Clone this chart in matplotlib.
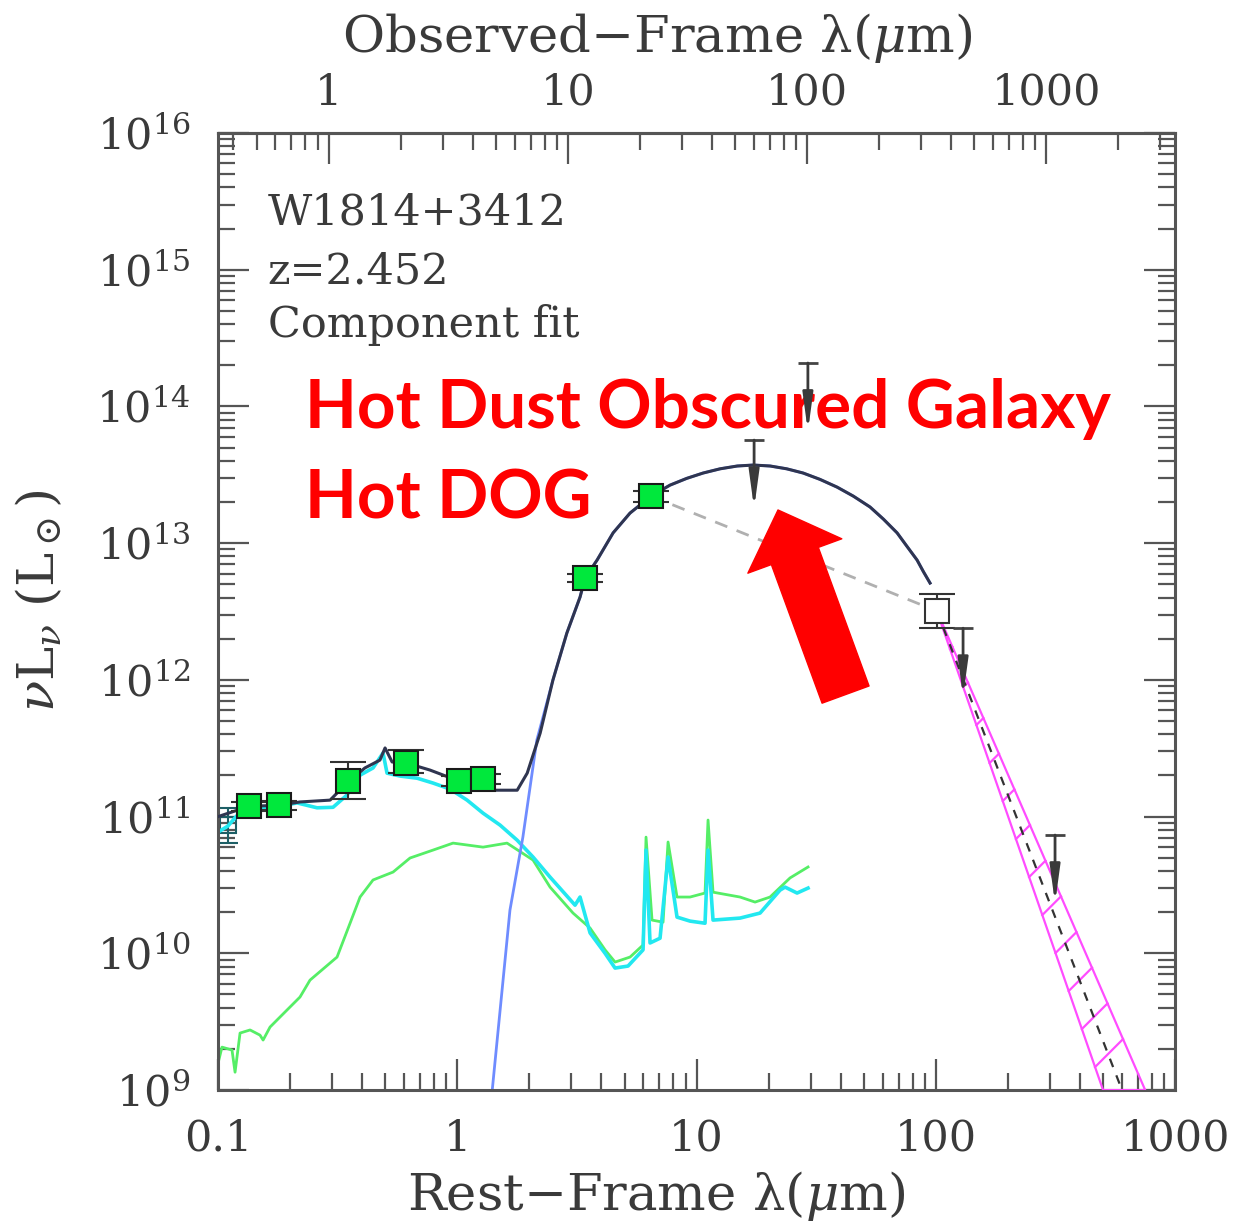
import numpy as np
import matplotlib.pyplot as plt
from matplotlib import ticker
from matplotlib.patches import FancyArrowPatch, Polygon

plt.rcParams['font.family'] = 'DejaVu Serif'
plt.rcParams['mathtext.fontset'] = 'dejavuserif'

z = 2.452

# photometry, rest-frame wavelength (micron) and nu L_nu (L_sun)
phot_lam = [0.1348, 0.180, 0.349, 0.611, 1.016, 1.282, 3.42, 6.45]
phot_L = [1.19e11, 1.21e11, 1.82e11, 2.47e11, 1.82e11, 1.89e11, 5.56e12, 2.21e13]
phot_err_lo = [0.09e11, 0.09e11, 0.48e11, 0.39e11, 0.15e11, 0.15e11, 0.35e12, 0.2e13]
phot_err_hi = [0.09e11, 0.09e11, 0.69e11, 0.60e11, 0.15e11, 0.15e11, 0.35e12, 0.2e13]

# open points (not used in the fit)
open_lam = [0.110, 101.0]
open_L = [8.7e10, 3.19e12]
open_err_lo = [2.3e10, 0.80e12]
open_err_hi = [2.9e10, 1.06e12]

# upper limits
ul_lam = [17.4, 29.2, 130.0, 315.0]
ul_L = [5.68e13, 2.08e14, 2.39e12, 7.33e10]

# total model
tot_lam = [0.100, 0.1348, 0.180, 0.220, 0.294, 0.349, 0.411, 0.475, 0.499, 0.534,
           0.611, 0.769, 1.016, 1.282, 1.41, 1.78, 1.96, 2.22, 2.51, 2.87, 3.26,
           3.42, 3.84, 4.48, 5.27, 6.45, 7.75, 9.10, 10.65, 12.54, 14.8, 17.28,
           20.3, 23.82, 27.9, 32.8, 38.7, 45.2, 53.1, 60.4, 68.9, 75.6, 83.5,
           88.8, 94.6]
tot_L = [1.0e11, 1.19e11, 1.21e11, 1.28e11, 1.32e11, 1.79e11, 2.27e11, 2.59e11,
         3.18e11, 2.51e11, 2.47e11, 2.19e11, 1.82e11, 1.75e11, 1.56e11, 1.56e11,
         2.08e11, 4.08e11, 9.97e11, 2.20e12, 4.04e12, 5.56e12, 7.53e12, 1.19e13,
         1.66e13, 2.21e13, 2.66e13, 2.98e13, 3.26e13, 3.50e13, 3.67e13, 3.73e13,
         3.67e13, 3.50e13, 3.26e13, 2.93e13, 2.57e13, 2.21e13, 1.84e13, 1.50e13,
         1.19e13, 9.53e12, 7.53e12, 6.18e12, 5.11e12]

# hot dust component
hd_lam = [1.40, 1.66, 1.88, 2.15, 2.51, 2.87, 3.26, 3.42, 3.84, 4.48, 5.27, 6.45,
          7.75, 9.10, 10.65, 12.54, 14.8, 17.28, 20.3, 23.82, 27.9, 32.8, 38.7,
          45.2, 53.1, 60.4, 68.9, 75.6, 83.5, 88.8, 94.6]
hd_L = [1.0e9, 2.07e10, 7.08e10, 3.63e11, 9.97e11, 2.20e12, 4.04e12, 5.56e12,
        7.53e12, 1.19e13, 1.66e13, 2.21e13, 2.66e13, 2.98e13, 3.26e13, 3.50e13,
        3.67e13, 3.73e13, 3.67e13, 3.50e13, 3.26e13, 2.93e13, 2.57e13, 2.21e13,
        1.84e13, 1.50e13, 1.19e13, 9.53e12, 7.53e12, 6.18e12, 5.11e12]

# stellar + AGN template (cyan)
cy_lam = [0.100, 0.110, 0.1236, 0.1498, 0.1816, 0.2139, 0.2593, 0.3025, 0.3461,
          0.3923, 0.4445, 0.4894, 0.5086, 0.5765, 0.679, 0.7917, 0.9326, 1.099,
          1.281, 1.509, 1.778, 2.073, 2.442, 3.106, 3.259, 3.589, 4.146, 4.565,
          5.172, 5.976, 6.150, 6.392, 7.038, 7.602, 8.287, 9.394, 10.85, 11.17,
          11.72, 15.20, 18.43, 22.34, 23.44, 26.31, 29.24]
cy_L = [7.71e10, 8.53e10, 1.08e11, 1.16e11, 1.19e11, 1.26e11, 1.16e11, 1.17e11,
        1.44e11, 2.01e11, 2.27e11, 2.92e11, 2.08e11, 1.98e11, 1.91e11, 1.76e11,
        1.59e11, 1.32e11, 1.06e11, 8.67e10, 6.73e10, 5.06e10, 3.61e10, 2.25e10,
        2.58e10, 1.41e10, 1.00e10, 7.80e9, 8.07e9, 1.06e10, 5.69e10, 1.19e10,
        1.29e10, 5.06e10, 1.84e10, 1.72e10, 1.66e10, 5.69e10, 1.75e10, 1.81e10,
        1.97e10, 2.90e10, 3.05e10, 2.76e10, 3.00e10]

# host template (green)
gr_lam = [0.100, 0.1039, 0.1144, 0.1178, 0.1236, 0.1361, 0.1498, 0.1543, 0.1650,
          0.1816, 0.2201, 0.2424, 0.3144, 0.3563, 0.3923, 0.4445, 0.5390, 0.6346,
          0.7917, 0.9599, 1.281, 1.614, 2.073, 2.442, 3.046, 3.589, 4.146, 4.565,
          5.274, 5.976, 6.150, 6.516, 7.244, 7.602, 8.287, 9.394, 10.85, 11.17,
          11.72, 15.20, 17.56, 20.29, 24.59, 29.24]
gr_L = [1.57e9, 2.06e9, 1.96e9, 1.35e9, 2.61e9, 2.75e9, 2.52e9, 2.32e9, 2.89e9,
        3.42e9, 4.79e9, 6.37e9, 9.39e9, 1.66e10, 2.58e10, 3.44e10, 3.93e10,
        4.98e10, 5.69e10, 6.40e10, 5.98e10, 6.40e10, 4.81e10, 3.05e10, 1.97e10,
        1.53e10, 1.06e10, 8.63e9, 9.39e9, 1.15e10, 7.08e10, 1.75e10, 1.69e10,
        6.52e10, 2.58e10, 2.58e10, 2.76e10, 9.44e10, 2.80e10, 2.58e10, 2.37e10,
        2.58e10, 3.56e10, 4.28e10]

# cold dust power-law band beyond 100 micron
band_apex = (101.0, 3.19e12)
band_lo_end = (500.0, 1e9)
band_hi_end = (750.0, 1e9)
band_mid_end = (600.0, 1e9)

TXT = '#3a3a3a'
AX = '#555555'
MAG = '#ff4cff'

fig = plt.figure(figsize=(12.36, 12.22), dpi=100)
ax = fig.add_axes([0.1764, 0.1080, 0.7743, 0.7831])
ax.set_xscale('log')
ax.set_yscale('log')
ax.set_xlim(0.1, 1000)
ax.set_ylim(1e9, 1e16)

# model curves
ax.plot(gr_lam, gr_L, color='#55ee66', lw=2.0, zorder=2)
ax.plot(cy_lam, cy_L, color='#22e8f0', lw=2.6, zorder=2.2)
ax.plot(hd_lam, hd_L, color='#6f8cff', lw=2.0, zorder=2.4)
ax.plot(tot_lam, tot_L, color='#2f3550', lw=2.2, zorder=3)

# line joining the last detection to the 100 micron point
ax.plot([phot_lam[-1], open_lam[1]], [phot_L[-1], open_L[1]], color='#b0b0b0',
        lw=2, dashes=(4.7, 3.6), zorder=2.5)

# power-law band with coarse hatching
band = Polygon([band_apex, band_lo_end, band_hi_end], closed=True, fill=False,
               edgecolor=MAG, lw=1.6, zorder=2.6)
ax.add_patch(band)
T = ax.transData
A, P1, P2 = T.transform([band_apex, band_lo_end, band_hi_end])
step = 38.0
d = np.array([1.0, 1.0])
n = int((A[1] - P1[1]) // step)
for k in range(1, n + 1):
    p = A + (P1 - A) * (k * step / (A[1] - P1[1]))
    M = np.column_stack([d, -(P2 - A)])
    t, s = np.linalg.solve(M, A - p)
    q = p + t * d
    seg = T.inverted().transform([p, q])
    ax.plot(seg[:, 0], seg[:, 1], color=MAG, lw=1.6, zorder=2.6)
ax.plot([band_apex[0], band_mid_end[0]], [band_apex[1], band_mid_end[1]],
        color='#333333', lw=1.6, dashes=(4, 4), zorder=2.7)

# photometry
lo = np.array(phot_err_lo)
hi = np.array(phot_err_hi)
ax.errorbar(phot_lam, phot_L, yerr=[lo, hi], fmt='s', ms=17, mfc='#00e83c',
            mec='#1a1a1a', mew=1.5, ecolor='#333333', elinewidth=1.5,
            capsize=13, capthick=1.5, zorder=5)
ax.errorbar(open_lam[1:], open_L[1:], yerr=[open_err_lo[1:], open_err_hi[1:]],
            fmt='s', ms=17, mfc='white', mec='#333333', mew=1.5,
            ecolor='#333333', elinewidth=1.5, capsize=13, capthick=1.5, zorder=5)
ax.errorbar(open_lam[:1], open_L[:1], yerr=[open_err_lo[:1], open_err_hi[:1]],
            fmt='s', ms=12, mfc='none', mec='#1d5f66', mew=1.5,
            ecolor='#1d5f66', elinewidth=1.5, capsize=7, capthick=1.5, zorder=1.9)

# upper limits: cap plus downward arrow
for lam, L in zip(ul_lam, ul_L):
    ax.plot([lam], [L], marker='_', ms=15, mew=2, color='#444444', zorder=6)
    ax.annotate('', xy=(lam, L / 10 ** 0.5), xytext=(lam, L),
                arrowprops=dict(arrowstyle='-|>,head_width=0.3,head_length=2.2',
                                color='#3a3a3a', lw=2, shrinkA=0, shrinkB=0),
                zorder=6)

# axes styling
for sp in ax.spines.values():
    sp.set_color(AX)
    sp.set_linewidth(2.2)
ax.xaxis.set_major_locator(ticker.LogLocator(base=10, numticks=10))
ax.xaxis.set_minor_locator(ticker.LogLocator(base=10, subs=np.arange(2, 10), numticks=20))
ax.yaxis.set_major_locator(ticker.LogLocator(base=10, numticks=10))
ax.yaxis.set_minor_locator(ticker.LogLocator(base=10, subs=np.arange(2, 10), numticks=20))
ax.xaxis.set_major_formatter(ticker.FuncFormatter(lambda v, p: f'{v:g}'))
ax.xaxis.set_minor_formatter(ticker.NullFormatter())
ax.yaxis.set_major_formatter(ticker.LogFormatterMathtext())
ax.yaxis.set_minor_formatter(ticker.NullFormatter())
ax.tick_params(which='both', direction='in', color=AX, width=1.6,
               left=True, right=True, bottom=True, top=False,
               labelsize=31, labelcolor=TXT, pad=20)
ax.tick_params(which='major', length=22)
ax.tick_params(which='minor', length=12.5)
ax.xaxis.offsetText.set_visible(False)
ax.yaxis.offsetText.set_visible(False)

sec = ax.secondary_xaxis('top', functions=(lambda x: x * (1 + z), lambda x: x / (1 + z)))
sec.xaxis.set_major_locator(ticker.FixedLocator([1, 10, 100, 1000]))
sec.xaxis.set_minor_locator(ticker.LogLocator(base=10, subs=np.arange(2, 10), numticks=20))
sec.xaxis.set_major_formatter(ticker.FuncFormatter(lambda v, p: f'{v:g}'))
sec.xaxis.set_minor_formatter(ticker.NullFormatter())
sec.tick_params(which='both', direction='in', color=AX, width=1.6,
                labelsize=31, labelcolor=TXT, pad=14)
sec.tick_params(which='major', length=22)
sec.tick_params(which='minor', length=12.5)
sec.spines['top'].set_color(AX)
sec.spines['top'].set_linewidth(2.2)
sec.xaxis.offsetText.set_visible(False)
sec.xaxis.label.set_visible(False)
sec.yaxis.label.set_visible(False)
sec.yaxis.offsetText.set_visible(False)

ax.set_xlabel('Rest−Frame λ($\\mu$m)', fontsize=37, color=TXT)
ax.xaxis.set_label_coords(0.458, -0.083)
fig.text(0.532, 0.9574, 'Observed−Frame λ($\\mu$m)', fontsize=37, color=TXT,
         ha='center', va='baseline')
ax.set_ylabel('$\\nu$L$_\\nu$ (L$_\\odot$)', fontsize=37, color=TXT)
ax.yaxis.set_label_coords(-0.16, 0.512)

# object info
ax.text(0.052, 0.904, 'W1814+3412', transform=ax.transAxes, fontsize=31,
        color=TXT, va='baseline')
ax.text(0.052, 0.843, 'z=2.452', transform=ax.transAxes, fontsize=31,
        color=TXT, va='baseline')
ax.text(0.052, 0.787, 'Component fit', transform=ax.transAxes, fontsize=31,
        color=TXT, va='baseline')

# red annotation
ax.text(0.0909, 0.6917, 'Hot Dust Obscured Galaxy', transform=ax.transAxes,
        fontsize=48.5, fontfamily='Lato', fontweight='bold', color='#ff0000',
        va='baseline', zorder=4)
ax.text(0.0909, 0.5977, 'Hot DOG', transform=ax.transAxes,
        fontsize=48.5, fontfamily='Lato', fontweight='bold', color='#ff0000',
        va='baseline', zorder=4)
arrow = FancyArrowPatch(posA=(41.96, 7.81e11), posB=(21.9, 1.75e13),
                        arrowstyle='simple,head_length=0.98,head_width=2.0,tail_width=1.0',
                        mutation_scale=36, color='#ff0000', shrinkA=0, shrinkB=0,
                        zorder=7)
ax.add_patch(arrow)

fig.savefig('out.png', dpi=100)
